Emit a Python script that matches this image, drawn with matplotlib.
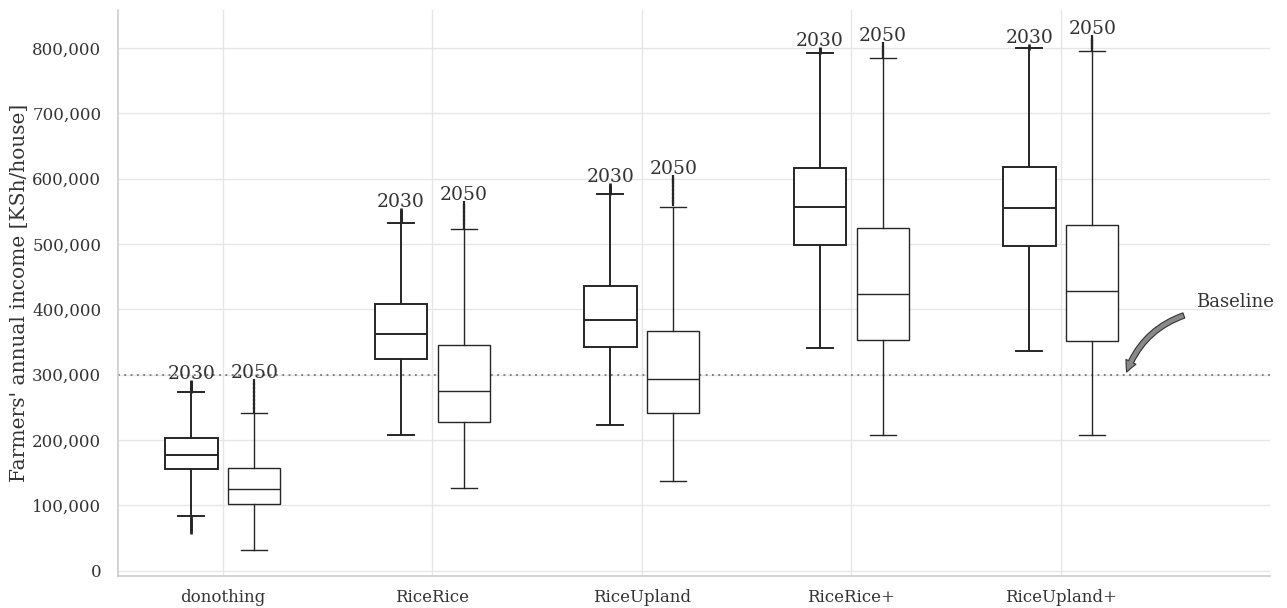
import numpy as np
import matplotlib
matplotlib.use("Agg")
import matplotlib.pyplot as plt
from matplotlib.ticker import FuncFormatter

# box statistics (KSh/house)
scenarios = ["donothing", "RiceRice", "RiceUpland", "RiceRice+", "RiceUpland+"]
years = ["2030", "2050"]

whislo_2030 = [84000, 208000, 223000, 341000, 336000]
q1_2030 = [156000, 324000, 343000, 499000, 497000]
med_2030 = [177000, 363000, 384000, 557000, 555000]
q3_2030 = [203000, 408000, 436000, 616000, 617000]
whishi_2030 = [274000, 532000, 577000, 792000, 800000]
fliers_2030 = [
    [277000, 280000, 283000, 286000, 287000, 80000, 75000, 70000, 65000, 61000],
    [536000, 540000, 544000, 548000, 551000],
    [580000, 583000, 586000, 589000],
    [795000, 797000],
    [802000],
]

whislo_2050 = [32000, 127000, 138000, 208000, 207000]
q1_2050 = [102000, 228000, 242000, 353000, 352000]
med_2050 = [125000, 275000, 294000, 424000, 428000]
q3_2050 = [158000, 346000, 367000, 525000, 529000]
whishi_2050 = [242000, 523000, 557000, 785000, 795000]
fliers_2050 = [
    [246000, 252000, 258000, 264000, 270000, 276000, 282000, 289000],
    [528000, 534000, 540000, 546000, 552000, 557000, 561000],
    [562000, 568000, 574000, 580000, 586000, 592000, 597000, 601000],
    [789000, 794000, 799000, 805000],
    [799000, 803000, 807000, 811000, 815000],
]

baseline = 300000

plt.rcParams["font.family"] = ["DejaVu Serif"]
text_col = "#333333"
box_col = "#262626"


def make_stats(lo, q1, med, q3, hi, fl):
    out = []
    for i in range(len(lo)):
        out.append(dict(whislo=lo[i], q1=q1[i], med=med[i], q3=q3[i],
                        whishi=hi[i], fliers=np.array(fl[i])))
    return out


stats_2030 = make_stats(whislo_2030, q1_2030, med_2030, q3_2030, whishi_2030, fliers_2030)
stats_2050 = make_stats(whislo_2050, q1_2050, med_2050, q3_2050, whishi_2050, fliers_2050)

fig = plt.figure(figsize=(12.87, 6.08), dpi=100)
ax = fig.add_axes([0.0917, 0.0526, 0.8953, 0.931])

x = np.arange(len(scenarios))
offset = 0.15
width = 0.25

for stats, pos, lw, year in [(stats_2030, x - offset, 1.4, years[0]),
                             (stats_2050, x + offset, 1.0, years[1])]:
    line = dict(color=box_col, linewidth=lw)
    ax.bxp(stats, positions=pos, widths=width, patch_artist=True,
           boxprops=dict(facecolor="white", edgecolor=box_col, linewidth=lw),
           whiskerprops=line, capprops=line, medianprops=line,
           flierprops=dict(marker="|", markersize=5, markeredgewidth=lw + 0.6,
                           markeredgecolor=box_col, linestyle="none"),
           capwidths=width * 0.5, manage_ticks=False, zorder=3)
    for p, s in zip(pos, stats):
        top = max(s["whishi"], s["fliers"].max())
        ax.text(p, top, year, ha="center", va="bottom", fontsize=13.5,
                color=text_col, zorder=4)

ax.axhline(baseline, color="#777777", linestyle=(0, (1, 2.5)), linewidth=1.3, zorder=2)

ax.annotate("", xy=(4.31, baseline), xytext=(4.6, 392000),
            arrowprops=dict(arrowstyle="simple,head_width=0.8,head_length=0.8,tail_width=0.4",
                            connectionstyle="arc3,rad=0.25",
                            fc="#888888", ec="#333333", lw=0.8))
ax.text(4.645, 411000, "Baseline", ha="left", va="center", fontsize=13, color=text_col)

ax.set_xlim(-0.5, 5.0)
ax.set_ylim(-8000, 858000)
ax.set_xticks(x)
ax.set_xticklabels(scenarios)
ax.set_yticks(np.arange(0, 800001, 100000))
ax.yaxis.set_major_formatter(FuncFormatter(lambda v, p: f"{v:,.0f}"))
ax.set_ylabel("Farmers' annual income [KSh/house]", fontsize=14.5, color=text_col, labelpad=2)

ax.grid(True, color="#e6e6e6", linewidth=1.0, zorder=0)
ax.set_axisbelow(True)
ax.tick_params(axis="both", length=0, labelsize=12, colors=text_col)
ax.tick_params(axis="y", pad=12)
ax.tick_params(axis="x", pad=9)
for side in ["top", "right"]:
    ax.spines[side].set_visible(False)
for side in ["left", "bottom"]:
    ax.spines[side].set_color("#cccccc")
    ax.spines[side].set_linewidth(1.2)

fig.savefig("out.png", dpi=100)
